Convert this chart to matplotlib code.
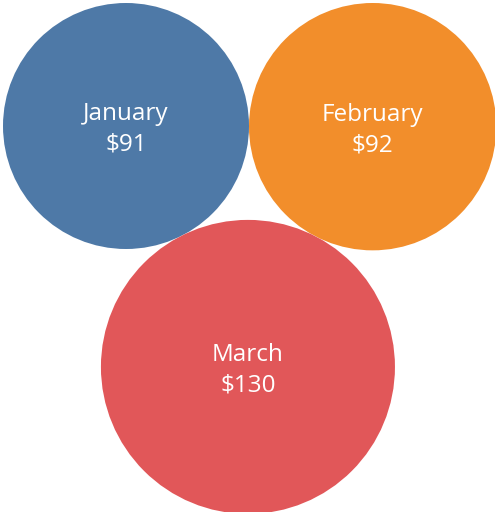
import numpy as np
import matplotlib
matplotlib.use("Agg")
import matplotlib.pyplot as plt
from matplotlib.patches import Circle

months = ["January", "February", "March"]
sales = [91, 92, 130]
colors = ["#4E79A7", "#F28E2B", "#E15759"]

def main():
    W, H = 495, 512
    fig = plt.figure(figsize=(W / 100, H / 100), dpi=100)
    ax = fig.add_axes([0, 0, 1, 1])
    ax.set_xlim(0, W)
    ax.set_ylim(H, 0)
    ax.axis("off")

    # area ~ value
    k = 123.0 / np.sqrt(91)
    r = [k * np.sqrt(v) for v in sales]

    # pack: first two side by side, third tangent to both underneath
    c1 = np.array([3 + r[0], 3 + r[0]])
    c2 = np.array([c1[0] + r[0] + r[1], 3 + r[1]])
    d = np.linalg.norm(c2 - c1)
    a = ((r[0] + r[2]) ** 2 - (r[1] + r[2]) ** 2 + d ** 2) / (2 * d)
    h = np.sqrt((r[0] + r[2]) ** 2 - a ** 2)
    u = (c2 - c1) / d
    c3 = c1 + a * u + h * np.array([-u[1], u[0]])
    centers = [c1, c2, c3]

    for m, v, col, c, rr in zip(months, sales, colors, centers, r):
        ax.add_patch(Circle(c, rr, color=col, lw=0))
        ax.text(c[0], c[1] - 12, m, color="white", fontsize=17.5,
                family="Open Sans", ha="center", va="center")
        ax.text(c[0], c[1] + 19, r"\$%d" % v, color="white", fontsize=17.5,
                family="Open Sans", ha="center", va="center")

    fig.savefig("out.png", dpi=100)
    plt.close()

if __name__ == "__main__":
    main()
